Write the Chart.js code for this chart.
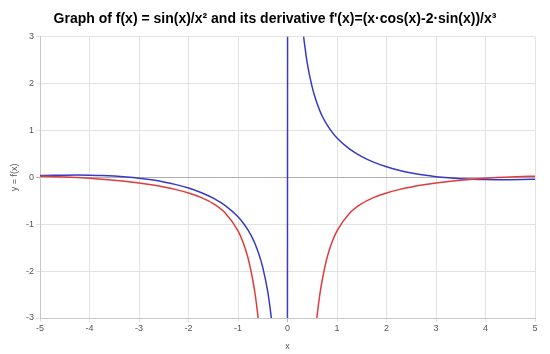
<!DOCTYPE html>
<html>
<head>
<meta charset="utf-8">
<script src="https://cdn.jsdelivr.net/npm/chart.js@4"></script>
<style>
  body { margin: 0; background: #fff; }
</style>
</head>
<body>
<canvas id="chart" width="550" height="354"></canvas>
<script>
// x positions of the sampled points
const xs = [
  -5, -4.75, -4.5, -4.25, -4, -3.75, -3.5, -3.25, -3, -2.75, -2.5, -2.25, -2,
  -1.75, -1.5, -1.25, -1, -0.9, -0.8, -0.7, -0.65, -0.6, -0.55, -0.5, -0.4,
  -0.35, -0.3, -0.2, -0.1, -0.02,
  0.02, 0.1, 0.2, 0.3, 0.35, 0.4, 0.5, 0.55, 0.6, 0.65, 0.7, 0.8, 0.9, 1,
  1.25, 1.5, 1.75, 2, 2.25, 2.5, 2.75, 3, 3.25, 3.5, 3.75, 4, 4.25, 4.5, 4.75, 5
];

// f(x) = sin(x)/x^2 (blue)
const fVals = [
  0.038, 0.044, 0.048, 0.050, 0.047, 0.041, 0.029, 0.010, -0.016, -0.051, -0.096, -0.154, -0.227,
  -0.321, -0.443, -0.607, -0.841, -0.967, -1.12, -1.31, -1.43, -1.57, -1.73, -1.92, -2.43,
  -2.80, -3.28, -4.97, -9.98, -50.0,
  50.0, 9.98, 4.97, 3.28, 2.80, 2.43, 1.92, 1.73, 1.57, 1.43, 1.31, 1.12, 0.967, 0.841,
  0.607, 0.443, 0.321, 0.227, 0.154, 0.096, 0.051, 0.016, -0.010, -0.029, -0.041, -0.047, -0.050, -0.048, -0.044, -0.038
];

// f'(x) = (x·cos(x) - 2·sin(x))/x^3 (red)
const dVals = [
  0.027, 0.020, 0.011, -0.001, -0.017, -0.037, -0.060, -0.088, -0.121, -0.159, -0.205, -0.261, -0.331,
  -0.425, -0.560, -0.770, -1.14, -1.38, -1.71, -2.20, -2.52, -2.94, -3.47, -4.16, -6.41,
  -8.33, -11.3, -25.2, -100.2, -2500,
  -2500, -100.2, -25.2, -11.3, -8.33, -6.41, -4.16, -3.47, -2.94, -2.52, -2.20, -1.71, -1.38, -1.14,
  -0.770, -0.560, -0.425, -0.331, -0.261, -0.205, -0.159, -0.121, -0.088, -0.060, -0.037, -0.017, -0.001, 0.011, 0.020, 0.027
];

const xTicks = [-5, -4, -3, -2, -1, 0, 1, 2, 3, 4, 5];
const yTicks = [-3, -2, -1, 0, 1, 2, 3];

const toPoints = (vals) => xs.map((x, i) => ({ x: x, y: vals[i] }));

const tickFont = { family: 'Arial, "Liberation Sans", sans-serif', size: 9 };
const gridColor = (c) => c.tick && c.tick.value === 0 ? '#b0b0b0' : '#e2e2e2';

new Chart(document.getElementById('chart'), {
  type: 'scatter',
  data: {
    datasets: [
      {
        label: "f'(x)",
        data: toPoints(dVals),
        showLine: true,
        borderColor: '#e03c3c',
        borderWidth: 1.5,
        pointRadius: 0,
        cubicInterpolationMode: 'monotone',
      },
      {
        label: 'f(x)',
        data: toPoints(fVals),
        showLine: true,
        borderColor: '#3838cc',
        borderWidth: 1.5,
        pointRadius: 0,
        cubicInterpolationMode: 'monotone',
      },
    ]
  },
  options: {
    responsive: false,
    animation: false,
    layout: { padding: 0 },
    plugins: {
      legend: { display: false },
      tooltip: { enabled: false },
      title: {
        display: true,
        text: "Graph of f(x) = sin(x)/x² and its derivative f'(x)=(x·cos(x)-2·sin(x))/x³",
        color: '#000',
        font: { family: 'Arial, "Liberation Sans", sans-serif', size: 14, weight: 'bold' },
        padding: { top: 11, bottom: 9 }
      }
    },
    scales: {
      x: {
        type: 'linear',
        min: -5,
        max: 5,
        afterBuildTicks: (s) => { s.ticks = xTicks.map(v => ({ value: v })); },
        afterFit: (s) => { s.height = 36; },
        ticks: { font: tickFont, color: '#555', padding: 1, maxRotation: 0 },
        grid: { color: gridColor, tickLength: 4 },
        border: { color: '#c8c8c8' },
        title: { display: true, text: 'x', font: tickFont, color: '#555', padding: { top: 0, bottom: 2 } }
      },
      y: {
        min: -3,
        max: 3,
        afterBuildTicks: (s) => { s.ticks = yTicks.map(v => ({ value: v })); },
        afterFit: (s) => { s.width = 40; },
        ticks: { font: tickFont, color: '#555', padding: 2 },
        grid: { color: gridColor, tickLength: 4 },
        border: { color: '#c8c8c8' },
        title: { display: true, text: 'y = f(x)', font: tickFont, color: '#555', padding: { top: 9, bottom: 0 } }
      },
      // empty strip on the right so the title stays centred on the canvas
      yRight: {
        position: 'right',
        min: -3,
        max: 3,
        afterFit: (s) => { s.width = 15; },
        ticks: { display: false },
        grid: { display: false, drawOnChartArea: false },
        border: { display: false }
      }
    }
  }
});
</script>
</body>
</html>
